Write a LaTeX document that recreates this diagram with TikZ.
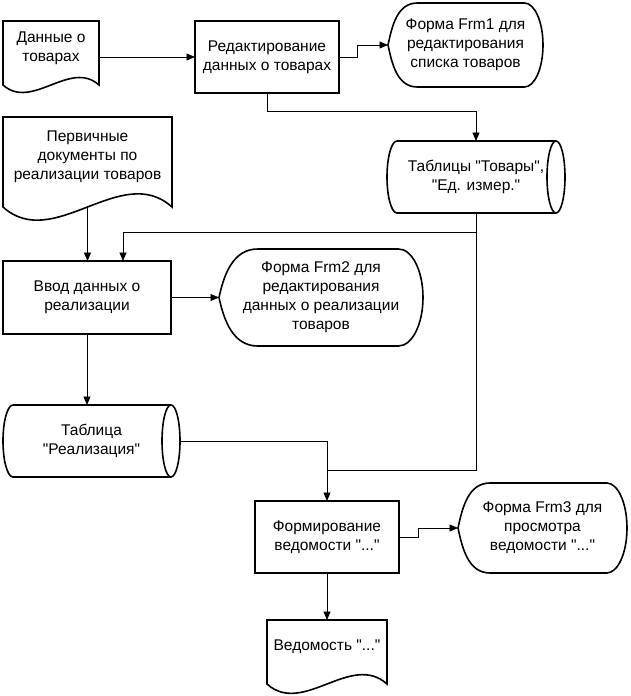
\documentclass[tikz,border=0pt]{standalone}
\usepackage{fontspec}
\newfontfamily\lsans{Liberation Sans}
\usetikzlibrary{calc,arrows.meta}

\tikzset{
  block/.style={rectangle, inner sep=0pt, outer sep=0pt, align=center},
  proc/.style={block, draw=black, line width=1.6pt},
  doc/.style={block},
  disp/.style={block},
  stor/.style={block},
  outline/.style={draw=black, line width=1.6pt},
  line/.style={draw=black, line width=0.8pt},
  arr/.style={line, -{Triangle[length=8.5pt,width=7pt]}}
}

\begin{document}
\begin{tikzpicture}[x=1pt, y=1pt, font=\lsans\fontsize{15.5}{19}\selectfont]
  \useasboundingbox (0,0) rectangle (630,-696);

  \node (dat) [doc, minimum width=96pt, minimum height=54pt] at (51,-48) {Данные о\\товарах};
  \node (red) [proc, minimum width=144pt, minimum height=72pt] at (267,-57) {Редактирование\\данных о товарах};
  \node (frm1) [disp, minimum width=155pt, minimum height=84pt] at (465.5,-45) {Форма Frm1 для\\редактирования\\списка товаров};
  \node (tab1) [stor, minimum width=178pt, minimum height=72pt] at (476,-177) {Таблицы "Товары",\\"Ед. измер."};
  \node (perv) [doc, minimum width=169pt, minimum height=80pt] at (87.5,-157) {Первичные\\документы по\\реализации товаров};
  \node (vvod) [proc, minimum width=168pt, minimum height=73pt] at (87,-297.5) {Ввод данных о\\реализации};
  \node (frm2) [disp, minimum width=204pt, minimum height=97pt] at (321,-297.5) {Форма Frm2 для\\редактирования\\данных о реализации\\товаров};
  \node (tab2) [stor, minimum width=177pt, minimum height=72pt] at (91.5,-441) {Таблица\\"Реализация"};
  \node (form) [proc, minimum width=144pt, minimum height=72pt] at (327,-537) {Формирование\\ведомости "..."};
  \node (frm3) [disp, minimum width=169pt, minimum height=90pt] at (542.5,-528) {Форма Frm3 для\\просмотра\\ведомости "..."};
  \node (ved) [doc, minimum width=120pt, minimum height=54pt] at (327,-647) {Ведомость "..."};

  % outlines
  \foreach \s in {dat,perv,ved}
    \draw[outline] let \p1=(\s.south west), \p2=(\s.south east), \n1={\x2-\x1} in
      ($(\s.south east)+(0,-10)$) -- (\s.north east) -- (\s.north west) -- ($(\s.south west)+(0,-10)$)
      .. controls ($(\s.south west)+(0.3*\n1,-10-0.27*\n1)$) and ($(\s.south east)+(-0.3*\n1,-10+0.27*\n1)$) .. ($(\s.south east)+(0,-10)$) -- cycle;
  \foreach \s in {frm1,frm2,frm3}
    \draw[outline] let \p1=(\s.north west), \p2=(\s.south east), \n1={0.12*(\x2-\x1)}, \n2={(\y1-\y2)/2}, \n3={0.19*(\x2-\x1)} in
      (\s.west) to[out=78,in=180] ($(\s.north west)+(\n3,0)$) -- ($(\s.north east)+(-\n1,0)$)
      arc[start angle=90, end angle=-90, x radius=\n1, y radius=\n2]
      -- ($(\s.south west)+(\n3,0)$) to[out=180,in=-78] (\s.west);
  \foreach \s in {tab1,tab2}
    \draw[outline] let \p1=(\s.north west), \p2=(\s.south east), \n1={(\y1-\y2)/2} in
      ($(\s.north west)+(10,0)$) -- ($(\s.north east)+(-9,0)$)
      arc[start angle=90, end angle=-90, x radius=9pt, y radius=\n1]
      -- ($(\s.south west)+(10,0)$)
      arc[start angle=270, end angle=90, x radius=10pt, y radius=\n1]
      ($(\s.north east)+(-9,0)$) arc[start angle=90, end angle=270, x radius=9pt, y radius=\n1];

  % connectors
  \coordinate (t1) at ($(tab1.south)+(0,-19)$);
  \coordinate (t2) at ($(form.north)+(0,31)$);
  \draw[arr] (dat.east |- red.west) -- (red.west);
  \draw[arr] (red.east) -- ++(18,0) |- (frm1.west);
  \draw[arr] (red.south) -- ++(0,-18) -| (tab1.north);
  \draw[arr] ($(perv.south)+(0,-10)$) -- (perv.south |- vvod.north);
  \draw[arr] (tab1.south) -- (t1) -| ($(vvod.north)+(36,0)$);
  \draw[line] (t1) |- (t2);
  \draw[arr] (vvod.east) -- (frm2.west);
  \draw[arr] (vvod.south) -- (vvod.south |- tab2.north);
  \draw[arr] (tab2.east) -| (form.north);
  \draw[arr] (form.east) -- ++(19,0) |- (frm3.west);
  \draw[arr] (form.south) -- (ved.north);
\end{tikzpicture}
\end{document}
